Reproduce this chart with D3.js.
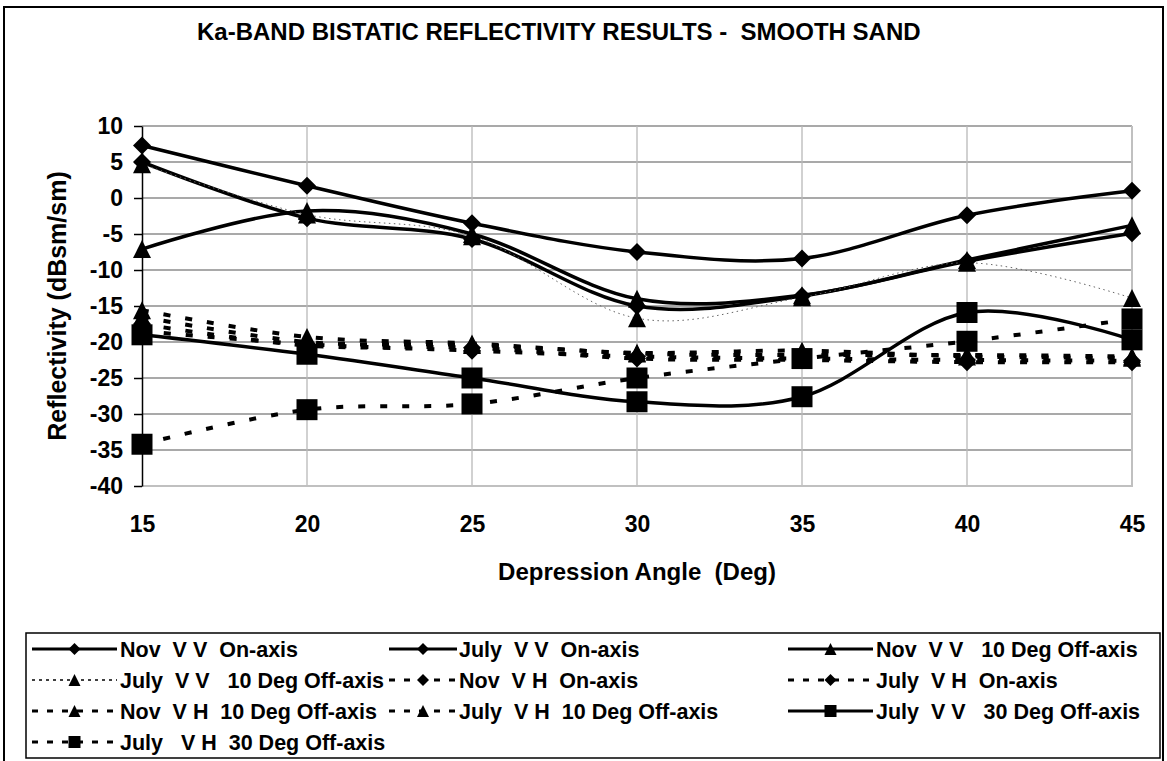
<!DOCTYPE html>
<html>
<head>
<meta charset="utf-8">
<script src="https://cdn.jsdelivr.net/npm/d3@7/dist/d3.min.js"></script>
<style>
  body { margin: 0; background: #fff; }
  svg text { font-family: "Liberation Sans", Arial, sans-serif; font-weight: bold; fill: #000; }
</style>
</head>
<body>
<div id="vis"></div>
<script>
// depression angle (deg)
var angles = [15, 20, 25, 30, 35, 40, 45];

// reflectivity (dBsm/sm)
var novVVOn   = [7.3, 1.7, -3.5, -7.5, -8.4, -2.4, 1.0];
var julyVVOn  = [5.0, -2.8, -5.7, -15.0, -13.6, -8.8, -4.9];
var novVV10   = [-7.1, -1.8, -5.0, -14.0, -13.5, -8.6, -3.8];
var julyVV10  = [4.7, -2.3, -5.3, -16.7, -13.8, -9.0, -13.9];
var novVHOn   = [-17.5, -20.5, -20.8, -22.3, -22.5, -22.8, -22.8];
var julyVHOn  = [-18.5, -20.3, -21.2, -22.0, -22.3, -22.5, -22.6];
var novVH10   = [-15.6, -19.3, -20.2, -21.6, -21.8, -21.8, -22.0];
var julyVH10  = [-16.5, -20.0, -20.4, -21.5, -21.2, -22.0, -22.2];
var julyVV30  = [-19.0, -21.7, -25.0, -28.3, -27.6, -15.9, -19.7];
var julyVH30  = [-34.2, -29.4, -28.6, -25.0, -22.3, -19.9, -16.8];

var seriesNames = [
  "Nov  V V  On-axis",
  "July  V V  On-axis",
  "Nov  V V   10 Deg Off-axis",
  "July  V V   10 Deg Off-axis",
  "Nov  V H  On-axis",
  "July  V H  On-axis",
  "Nov  V H  10 Deg Off-axis",
  "July  V H  10 Deg Off-axis",
  "July  V V   30 Deg Off-axis",
  "July   V H  30 Deg Off-axis"
];

var yTicks = [10, 5, 0, -5, -10, -15, -20, -25, -30, -35, -40];
var xTicks = [15, 20, 25, 30, 35, 40, 45];

// series table: values + how each one is drawn
var series = [
  {values: novVVOn,  marker: "diamond",  line: "solid"},
  {values: julyVVOn, marker: "diamond",  line: "solid"},
  {values: novVV10,  marker: "triangle", line: "solid"},
  {values: julyVV10, marker: "triangle", line: "dot"},
  {values: novVHOn,  marker: "diamond",  line: "dash"},
  {values: julyVHOn, marker: "diamond",  line: "dash"},
  {values: novVH10,  marker: "triangle", line: "dash"},
  {values: julyVH10, marker: "triangle", line: "dash"},
  {values: julyVV30, marker: "square",   line: "solid"},
  {values: julyVH30, marker: "square",   line: "dash"}
];
series.forEach(function(s, i) {
  s.name = seriesNames[i];
  s.points = angles.map(function(a, j) { return {a: a, v: s.values[j]}; });
});

var width = 1167, height = 761;

var svg = d3.select("#vis")
  .append("svg")
  .attr("width", width)
  .attr("height", height);

// outer chart border
svg.append("rect")
  .attr("x", 4).attr("y", 7)
  .attr("width", 1159).attr("height", 800)
  .attr("fill", "#fff")
  .attr("stroke", "#000")
  .attr("stroke-width", 2);

var plot = {left: 142, right: 1132, top: 126, bottom: 486};

var x = d3.scaleLinear().domain([15, 45]).range([plot.left, plot.right]),
    y = d3.scaleLinear().domain([-40, 10]).range([plot.bottom, plot.top]);

// title
svg.append("text")
  .attr("x", 197)
  .attr("y", 40)
  .style("font-size", "24px")
  .style("white-space", "pre")
  .text("Ka-BAND BISTATIC REFLECTIVITY RESULTS -  SMOOTH SAND");

// gridlines
var grid = svg.append("g");
grid.selectAll(".hgrid")
  .data(yTicks.filter(function(d) { return d > -40; }))
  .enter().append("line")
    .attr("x1", plot.left).attr("x2", plot.right)
    .attr("y1", function(d) { return y(d); })
    .attr("y2", function(d) { return y(d); })
    .attr("stroke", "#8c8c8c")
    .attr("stroke-width", 1.3);

grid.selectAll(".vgrid")
  .data(xTicks.filter(function(d) { return d > 15 && d < 45; }))
  .enter().append("line")
    .attr("x1", function(d) { return x(d); })
    .attr("x2", function(d) { return x(d); })
    .attr("y1", plot.top).attr("y2", plot.bottom)
    .attr("stroke", "#b8b8b8")
    .attr("stroke-width", 1.3);

// right and bottom plot border
grid.append("path")
  .attr("d", "M" + x(45) + "," + y(10) + "V" + y(-40) + "H" + x(15))
  .attr("fill", "none")
  .attr("stroke", "#c0c0c0")
  .attr("stroke-width", 2);

// plain hyphen minus, like the original
var plainFormat = function(d) { return String(d); };

// x axis labels
var xAxis = svg.append("g")
  .attr("transform", "translate(0," + plot.bottom + ")")
  .call(d3.axisBottom(x).tickValues(xTicks).tickFormat(plainFormat).tickSize(0).tickPadding(30));
xAxis.select(".domain").remove();
xAxis.selectAll("text").style("font-size", "23px").attr("font-family", null);

// y axis
var yAxis = svg.append("g")
  .attr("transform", "translate(" + plot.left + ",0)")
  .call(d3.axisLeft(y).tickValues(yTicks).tickFormat(plainFormat).tickSize(8).tickPadding(11).tickSizeOuter(0));
yAxis.select(".domain").attr("stroke", "#000").attr("stroke-width", 1.5);
yAxis.selectAll(".tick line").attr("stroke", "#000").attr("stroke-width", 1.5);
yAxis.selectAll("text").style("font-size", "23px").attr("font-family", null);

// axis titles
svg.append("text")
  .attr("transform", "translate(66,306) rotate(-90)")
  .attr("text-anchor", "middle")
  .style("font-size", "25px")
  .text("Reflectivity (dBsm/sm)");

svg.append("text")
  .attr("x", (plot.left + plot.right) / 2)
  .attr("y", 580)
  .attr("text-anchor", "middle")
  .style("font-size", "24px")
  .style("white-space", "pre")
  .text("Depression Angle  (Deg)");

// line styles and markers
function dashFor(kind, legend) {
  if (kind == "dash") return legend ? "6,9" : "7,15";
  if (kind == "dot") return legend ? "3,4" : "1.5,3.5";
  return null;
}
function widthFor(kind) {
  if (kind == "dot") return 1;
  if (kind == "dash") return 4;
  return 3.5;
}
function markerPath(type, s) {
  if (type == "diamond") return "M0," + (-s) + "L" + s + ",0L0," + s + "L" + (-s) + ",0Z";
  if (type == "triangle") return "M0," + (-s) + "L" + s + "," + s + "L" + (-s) + "," + s + "Z";
  return "M" + (-s) + "," + (-s) + "h" + (2 * s) + "v" + (2 * s) + "h" + (-2 * s) + "Z";
}
function markerSize(type) {
  if (type == "square") return 10.5;
  return 9;
}

var line = d3.line()
  .x(function(d) { return x(d.a); })
  .y(function(d) { return y(d.v); })
  .curve(d3.curveCardinal.tension(0));

var lines = svg.append("g");
lines.selectAll(".sline")
  .data(series)
  .enter().append("path")
    .attr("class", "sline")
    .attr("d", function(d) { return line(d.points); })
    .attr("fill", "none")
    .attr("stroke", function(d) { return d.line == "dot" ? "#666" : "#000"; })
    .attr("stroke-width", function(d) { return widthFor(d.line); })
    .attr("stroke-dasharray", function(d) { return dashFor(d.line, false); });

var markers = svg.append("g");
series.forEach(function(s) {
  markers.selectAll(null)
    .data(s.points)
    .enter().append("path")
      .attr("transform", function(d) { return "translate(" + x(d.a) + "," + y(d.v) + ")"; })
      .attr("d", markerPath(s.marker, markerSize(s.marker)))
      .attr("fill", "#000");
});

// legend
var legend = svg.append("g");
legend.append("rect")
  .attr("x", 26).attr("y", 633)
  .attr("width", 1134).attr("height", 125)
  .attr("fill", "#fff")
  .attr("stroke", "#000")
  .attr("stroke-width", 1.5);

var legendCols = [
  {x1: 32, x2: 117, text: 120},
  {x1: 389, x2: 457, text: 459},
  {x1: 788, x2: 873, text: 876}
];
var legendRowY = [649, 680, 711, 742];

var entries = legend.selectAll(".entry")
  .data(series)
  .enter().append("g")
    .attr("class", "entry")
    .attr("transform", function(d, i) { return "translate(0," + legendRowY[Math.floor(i / 3)] + ")"; });

entries.append("line")
  .attr("x1", function(d, i) { return legendCols[i % 3].x1; })
  .attr("x2", function(d, i) { return legendCols[i % 3].x2; })
  .attr("stroke", "#000")
  .attr("stroke-width", function(d) { return d.line == "dot" ? 1.5 : 3; })
  .attr("stroke-dasharray", function(d) { return dashFor(d.line, true); });

entries.append("path")
  .attr("transform", function(d, i) {
    var c = legendCols[i % 3];
    return "translate(" + ((c.x1 + c.x2) / 2) + ",0)";
  })
  .attr("d", function(d) { return markerPath(d.marker, 6); })
  .attr("fill", "#000");

entries.append("text")
  .attr("x", function(d, i) { return legendCols[i % 3].text; })
  .attr("dy", "0.36em")
  .style("font-size", "21.5px")
  .style("white-space", "pre")
  .text(function(d) { return d.name; });
</script>
</body>
</html>
